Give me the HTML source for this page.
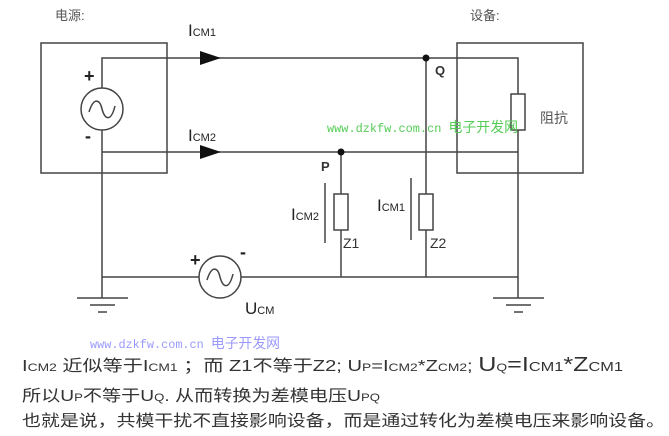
<!DOCTYPE html>
<html><head><meta charset="utf-8"><style>
html,body{margin:0;padding:0;background:#fff;}
svg{display:block;}
text{font-family:"Liberation Sans","Noto Sans CJK SC",sans-serif;}
</style></head><body>
<svg width="669" height="436" viewBox="0 0 669 436" xmlns="http://www.w3.org/2000/svg">
<g stroke="#444" stroke-width="1.5" fill="none">
<rect x="41" y="43" width="126" height="130"/>
<rect x="457" y="43" width="126" height="130"/>
<polyline points="102,88 102,58 518,58 518,94"/>
<polyline points="518,130 518,298"/>
<line x1="102" y1="130" x2="102" y2="298"/>
<line x1="102" y1="152" x2="518" y2="152"/>
<line x1="102" y1="277" x2="199" y2="277"/>
<line x1="241" y1="277" x2="518" y2="277"/>
<line x1="426" y1="58" x2="426" y2="194"/>
<line x1="426" y1="230" x2="426" y2="277"/>
<line x1="341" y1="152" x2="341" y2="194"/>
<line x1="341" y1="230" x2="341" y2="277"/>
<rect x="511" y="94" width="14" height="36"/>
<rect x="334" y="194" width="14" height="36"/>
<rect x="419" y="194" width="14" height="36"/>
<circle cx="102" cy="109" r="21"/>
<circle cx="220" cy="277" r="21"/>
<path d="M89,112 C94,96 100,100 102,109 C105,120 111,122 115,106"/>
<path d="M207,280 C212,264 218,268 220,277 C223,288 229,290 233,274"/>
<line x1="77" y1="298" x2="128" y2="298"/>
<line x1="90" y1="305" x2="115" y2="305"/>
<line x1="98" y1="312" x2="107" y2="312"/>
<line x1="493" y1="298" x2="544" y2="298"/>
<line x1="506" y1="305" x2="531" y2="305"/>
<line x1="514" y1="312" x2="523" y2="312"/>
<line x1="325" y1="183" x2="325" y2="243"/>
<line x1="411" y1="178" x2="411" y2="240"/>
</g>
<polygon points="200,51 221,58 200,65" fill="#111"/>
<polygon points="200,145 221,152 200,159" fill="#111"/>
<circle cx="426" cy="58" r="3.5" fill="#111"/>
<circle cx="341" cy="152" r="3.5" fill="#111"/>
<text x="55" y="20" font-size="13" fill="#555">电源:</text>
<text x="470" y="20" font-size="13" fill="#555">设备:</text>
<text x="540" y="123" font-size="14" fill="#555">阻抗</text>
<text x="84" y="82" font-size="18" font-weight="bold" fill="#222">+</text>
<text x="85" y="142" font-size="18" font-weight="bold" fill="#222">-</text>
<text x="190" y="266" font-size="18" font-weight="bold" fill="#222">+</text>
<text x="240" y="258" font-size="18" font-weight="bold" fill="#222">-</text>
<text x="188" y="36" font-size="17" fill="#222">I<tspan font-size="11">CM1</tspan></text>
<text x="188" y="141" font-size="17" fill="#222">I<tspan font-size="11">CM2</tspan></text>
<text x="291" y="220" font-size="17" fill="#222">I<tspan font-size="11">CM2</tspan></text>
<text x="377" y="211" font-size="17" fill="#222">I<tspan font-size="11">CM1</tspan></text>
<text x="245" y="314" font-size="17" fill="#222">U<tspan font-size="11">CM</tspan></text>
<text x="321" y="171" font-size="13" font-weight="bold" fill="#333">P</text>
<text x="435" y="75" font-size="13" font-weight="bold" fill="#333">Q</text>
<text x="343" y="248" font-size="14" fill="#333">Z1</text>
<text x="430" y="248" font-size="14" fill="#333">Z2</text>
<text x="327" y="132" font-size="12" fill="#5c5" style="font-family:'Liberation Mono',monospace" textLength="191" lengthAdjust="spacingAndGlyphs">www.dzkfw.com.cn <tspan style="font-family:'Noto Sans CJK SC',sans-serif" font-size="14">电子开发网</tspan></text>
<text x="90" y="348" font-size="12" fill="#99f" style="font-family:'Liberation Mono',monospace" textLength="190" lengthAdjust="spacingAndGlyphs">www.dzkfw.com.cn <tspan style="font-family:'Noto Sans CJK SC',sans-serif" font-size="14">电子开发网</tspan></text>
<text x="22" y="371" font-size="16" fill="#333" textLength="601" lengthAdjust="spacingAndGlyphs">I<tspan font-size="11">CM2</tspan> 近似等于I<tspan font-size="11">CM1</tspan> ；而 Z1不等于Z2; U<tspan font-size="11">P</tspan>=I<tspan font-size="11">CM2</tspan>*Z<tspan font-size="11">CM2</tspan>; <tspan font-size="20">U</tspan><tspan font-size="11">Q</tspan><tspan font-size="20">=I</tspan><tspan font-size="13">CM1</tspan><tspan font-size="20">*Z</tspan><tspan font-size="13">CM1</tspan></text>
<text x="22" y="401" font-size="16" fill="#333" textLength="358" lengthAdjust="spacingAndGlyphs">所以U<tspan font-size="11">P</tspan>不等于U<tspan font-size="11">Q</tspan>. 从而转换为差模电压U<tspan font-size="11">PQ</tspan></text>
<text x="22" y="426" font-size="16" fill="#333" textLength="643" lengthAdjust="spacingAndGlyphs">也就是说，共模干扰不直接影响设备，而是通过转化为差模电压来影响设备。</text>
</svg>
</body></html>
